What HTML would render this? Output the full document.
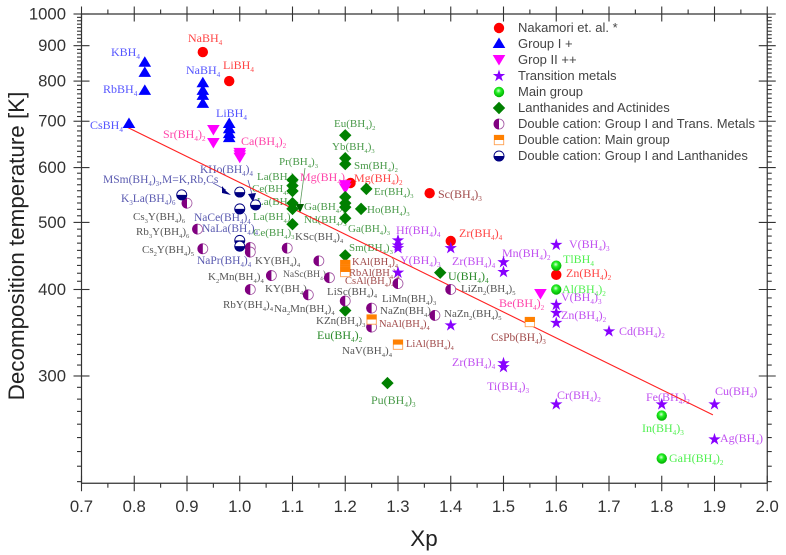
<!DOCTYPE html>
<html lang="en">
<head>
<meta charset="utf-8">
<title>Decomposition temperature vs Xp</title>
<style>
html,body{margin:0;padding:0;background:#fff}
svg{display:block}
#labels text{font-family:"Liberation Serif",serif}
.s{font-size:.6em;baseline-shift:-3px}
.r{fill:#f44;font-size:12px}
.b{fill:#55f;font-size:12px}
.p{fill:#f4a;font-size:12px}
.v{fill:#c050f0;font-size:12px}
.g{fill:#50f050;font-size:12px}
.d{fill:#4a9a4a;font-size:11px}
.n{fill:#5a5ab0;font-size:11.5px}
.k{fill:#555;font-size:11px}
.w{fill:#a04a4a;font-size:10.5px}
.leg{font-family:"Liberation Sans",sans-serif;font-size:13px;fill:#444}
.tick{font-family:"Liberation Sans",sans-serif;font-size:16.7px;fill:#333}
.title{font-family:"Liberation Sans",sans-serif;font-size:22.4px;fill:#222}
</style>
</head>
<body>
<svg id="chart" xmlns="http://www.w3.org/2000/svg" width="786" height="555" viewBox="0 0 786 555">
<defs>
<radialGradient id="sphere" cx="0.45" cy="0.38" r="0.6"><stop offset="0" stop-color="#d8ffd8"/><stop offset="0.4" stop-color="#22ee22"/><stop offset="1" stop-color="#00b000"/></radialGradient>
<g id="m-circle"><circle r="5.2" fill="#f00"/></g>
<g id="m-up"><polygon points="0,-5.5 6.3,5 -6.3,5" fill="#00f"/></g>
<g id="m-down"><polygon points="0,5.5 6.3,-5 -6.3,-5" fill="#f0f"/></g>
<g id="m-star"><polygon points="0,-6.5 1.47,-2.02 6.18,-2.01 2.38,.77 3.82,5.26 0,2.5 -3.82,5.26 -2.38,.77 -6.18,-2.01 -1.47,-2.02" fill="#80f"/></g>
<g id="m-sphere"><circle r="5.2" fill="url(#sphere)"/></g>
<g id="m-diamond"><polygon points="0,-6.2 6.2,0 0,6.2 -6.2,0" fill="#008000"/></g>
<g id="m-half-tm"><circle r="5" fill="#fff" stroke="#a050a0" stroke-width=".8"/><path d="M0,-5.4A5.4,5.4 0 0 0 0,5.4Z" fill="#800080"/></g>
<g id="m-half-main"><rect x="-4.7" y="-4.7" width="9.4" height="9.4" fill="#fff" stroke="#ffa050" stroke-width=".9"/><rect x="-5" y="-5" width="10" height="5" fill="#ff8000"/></g>
<g id="m-half-lan"><circle r="5" fill="#fff" stroke="#000080" stroke-width=".9"/><path d="M-5.4,0A5.4,5.4 0 0 0 5.4,0Z" fill="#000080"/></g>
</defs>

<g id="labels">
<text class="r" x="188" y="42">NaBH<tspan class="s">4</tspan></text>
<text class="r" x="223" y="69">LiBH<tspan class="s">4</tspan></text>
<text class="b" x="111" y="56">KBH<tspan class="s">4</tspan></text>
<text class="b" x="186" y="74">NaBH<tspan class="s">4</tspan></text>
<text class="b" x="103" y="93">RbBH<tspan class="s">4</tspan></text>
<text class="b" x="90" y="129">CsBH<tspan class="s">4</tspan></text>
<text class="b" x="216" y="117">LiBH<tspan class="s">4</tspan></text>
<text class="p" x="163" y="138">Sr(BH<tspan class="s">4</tspan>)<tspan class="s">2</tspan></text>
<text class="p" x="241" y="145">Ca(BH<tspan class="s">4</tspan>)<tspan class="s">2</tspan></text>
<text class="d" x="279" y="165">Pr(BH<tspan class="s">4</tspan>)<tspan class="s">3</tspan></text>
<text class="n" x="200" y="173">KHo(BH<tspan class="s">4</tspan>)<tspan class="s">4</tspan></text>
<text class="d" x="257" y="180">La(BH<tspan class="s">4</tspan>)<tspan class="s">3</tspan></text>
<text class="p" x="300" y="181">Mg(BH<tspan class="s">4</tspan>)<tspan class="s">2</tspan></text>
<text class="n" x="103" y="183">MSm(BH<tspan class="s">4</tspan>)<tspan class="s">3</tspan>,M=K,Rb,Cs</text>
<text class="n" x="121" y="202">K<tspan class="s">3</tspan>La(BH<tspan class="s">4</tspan>)<tspan class="s">6</tspan></text>
<text class="k" x="133" y="220">Cs<tspan class="s">3</tspan>Y(BH<tspan class="s">4</tspan>)<tspan class="s">6</tspan></text>
<text class="k" x="136" y="235">Rb<tspan class="s">3</tspan>Y(BH<tspan class="s">4</tspan>)<tspan class="s">6</tspan></text>
<text class="k" x="142" y="253">Cs<tspan class="s">2</tspan>Y(BH<tspan class="s">4</tspan>)<tspan class="s">5</tspan></text>
<text class="n" x="194" y="221">NaCe(BH<tspan class="s">4</tspan>)<tspan class="s">4</tspan></text>
<text class="n" x="202" y="232">NaLa(BH<tspan class="s">4</tspan>)<tspan class="s">4</tspan></text>
<text class="n" x="197" y="264">NaPr(BH<tspan class="s">4</tspan>)<tspan class="s">4</tspan></text>
<text class="k" x="255" y="264">KY(BH<tspan class="s">4</tspan>)<tspan class="s">4</tspan></text>
<text class="k" x="208" y="280">K<tspan class="s">2</tspan>Mn(BH<tspan class="s">4</tspan>)<tspan class="s">4</tspan></text>
<text class="k" x="265" y="292">KY(BH<tspan class="s">4</tspan>)<tspan class="s">4</tspan></text>
<text class="k" x="223" y="308">RbY(BH<tspan class="s">4</tspan>)<tspan class="s">4</tspan></text>
<text class="k" x="274" y="312">Na<tspan class="s">2</tspan>Mn(BH<tspan class="s">4</tspan>)<tspan class="s">4</tspan></text>
<text class="k" x="283" y="277" style="font-size:9.5px">NaSc(BH<tspan class="s">4</tspan>)</text>
<text class="d" x="252" y="192">Ce(BH<tspan class="s">4</tspan>)<tspan class="s">3</tspan></text>
<text class="d" x="257" y="205">La(BH<tspan class="s">4</tspan>)<tspan class="s">3</tspan></text>
<text class="d" x="253" y="220">La(BH<tspan class="s">4</tspan>)<tspan class="s">3</tspan></text>
<text class="d" x="253" y="236">Ce(BH<tspan class="s">4</tspan>)<tspan class="s">3</tspan></text>
<text class="k" x="295" y="240">KSc(BH<tspan class="s">4</tspan>)<tspan class="s">4</tspan></text>
<text class="d" x="304" y="210">Ga(BH<tspan class="s">4</tspan>)<tspan class="s">3</tspan></text>
<text class="d" x="304" y="223">Nd(BH<tspan class="s">4</tspan>)<tspan class="s">3</tspan></text>
<text class="d" x="334" y="127">Eu(BH<tspan class="s">4</tspan>)<tspan class="s">2</tspan></text>
<text class="d" x="332" y="150">Yb(BH<tspan class="s">4</tspan>)<tspan class="s">3</tspan></text>
<text class="d" x="354" y="169">Sm(BH<tspan class="s">4</tspan>)<tspan class="s">2</tspan></text>
<text class="r" x="354" y="182">Mg(BH<tspan class="s">4</tspan>)<tspan class="s">2</tspan></text>
<text class="d" x="374" y="195">Er(BH<tspan class="s">4</tspan>)<tspan class="s">3</tspan></text>
<text class="d" x="367" y="213">Ho(BH<tspan class="s">4</tspan>)<tspan class="s">3</tspan></text>
<text class="d" x="348" y="232">Ga(BH<tspan class="s">4</tspan>)<tspan class="s">3</tspan></text>
<text class="d" x="349" y="251">Sm(BH<tspan class="s">4</tspan>)<tspan class="s">3</tspan></text>
<text class="w" x="352" y="265">KAl(BH<tspan class="s">4</tspan>)<tspan class="s">4</tspan></text>
<text class="w" x="349" y="276">RbAl(BH<tspan class="s">4</tspan>)<tspan class="s">4</tspan></text>
<text class="w" x="345" y="284">CsAl(BH<tspan class="s">4</tspan>)<tspan class="s">4</tspan></text>
<text class="v" x="396" y="234">Hf(BH<tspan class="s">4</tspan>)<tspan class="s">4</tspan></text>
<text class="v" x="400" y="264">Y(BH<tspan class="s">4</tspan>)<tspan class="s">3</tspan></text>
<text class="k" x="327" y="295">LiSc(BH<tspan class="s">4</tspan>)<tspan class="s">4</tspan></text>
<text class="k" x="382" y="302">LiMn(BH<tspan class="s">4</tspan>)<tspan class="s">3</tspan></text>
<text class="k" x="380" y="314">NaZn(BH<tspan class="s">4</tspan>)</text>
<text class="k" x="316" y="324">KZn(BH<tspan class="s">4</tspan>)<tspan class="s">3</tspan></text>
<text class="w" x="379" y="327">NaAl(BH<tspan class="s">4</tspan>)<tspan class="s">4</tspan></text>
<text class="d" x="317" y="339" style="fill:#2a8a2a;font-size:12px">Eu(BH<tspan class="s">4</tspan>)<tspan class="s">2</tspan></text>
<text class="w" x="406" y="347">LiAl(BH<tspan class="s">4</tspan>)<tspan class="s">4</tspan></text>
<text class="k" x="342" y="354">NaV(BH<tspan class="s">4</tspan>)<tspan class="s">4</tspan></text>
<text class="d" x="371" y="404" style="font-size:12px">Pu(BH<tspan class="s">4</tspan>)<tspan class="s">3</tspan></text>
<text class="r" x="438" y="198" style="fill:#a04a4a">Sc(BH<tspan class="s">4</tspan>)<tspan class="s">3</tspan></text>
<text class="r" x="459" y="237">Zr(BH<tspan class="s">4</tspan>)<tspan class="s">4</tspan></text>
<text class="v" x="502" y="257">Mn(BH<tspan class="s">4</tspan>)<tspan class="s">2</tspan></text>
<text class="v" x="452" y="265">Zr(BH<tspan class="s">4</tspan>)<tspan class="s">4</tspan></text>
<text class="d" x="448" y="280" style="fill:#2a8a2a;font-size:12px">U(BH<tspan class="s">4</tspan>)<tspan class="s">4</tspan></text>
<text class="k" x="461" y="292">LiZn<tspan class="s">2</tspan>(BH<tspan class="s">4</tspan>)<tspan class="s">5</tspan></text>
<text class="p" x="499" y="307">Be(BH<tspan class="s">4</tspan>)<tspan class="s">2</tspan></text>
<text class="k" x="444" y="317">NaZn<tspan class="s">2</tspan>(BH<tspan class="s">4</tspan>)<tspan class="s">5</tspan></text>
<text class="w" x="491" y="341" style="font-size:11.5px">CsPb(BH<tspan class="s">4</tspan>)<tspan class="s">3</tspan></text>
<text class="v" x="452" y="366">Zr(BH<tspan class="s">4</tspan>)<tspan class="s">4</tspan></text>
<text class="v" x="487" y="390">Ti(BH<tspan class="s">4</tspan>)<tspan class="s">3</tspan></text>
<text class="v" x="569" y="248">V(BH<tspan class="s">4</tspan>)<tspan class="s">3</tspan></text>
<text class="g" x="563" y="263">TlBH<tspan class="s">4</tspan></text>
<text class="r" x="566" y="277">Zn(BH<tspan class="s">4</tspan>)<tspan class="s">2</tspan></text>
<text class="g" x="562" y="293">Al(BH<tspan class="s">4</tspan>)<tspan class="s">2</tspan></text>
<text class="v" x="561" y="301">V(BH<tspan class="s">4</tspan>)<tspan class="s">3</tspan></text>
<text class="v" x="561" y="319">Zn(BH<tspan class="s">4</tspan>)<tspan class="s">2</tspan></text>
<text class="v" x="619" y="335">Cd(BH<tspan class="s">4</tspan>)<tspan class="s">2</tspan></text>
<text class="v" x="557" y="399">Cr(BH<tspan class="s">4</tspan>)<tspan class="s">2</tspan></text>
<text class="v" x="646" y="401">Fe(BH<tspan class="s">4</tspan>)<tspan class="s">2</tspan></text>
<text class="v" x="715" y="395">Cu(BH<tspan class="s">4</tspan>)</text>
<text class="g" x="642" y="432">In(BH<tspan class="s">4</tspan>)<tspan class="s">3</tspan></text>
<text class="v" x="720" y="442">Ag(BH<tspan class="s">4</tspan>)</text>
<text class="g" x="669" y="462">GaH(BH<tspan class="s">4</tspan>)<tspan class="s">2</tspan></text>
</g>

<g>
<line x1="305" y1="168" x2="300" y2="205" stroke="#5a9a5a" stroke-width=".8"/>
<polygon points="296,204 304,204 300,213" fill="#006000"/>
<line x1="213" y1="183" x2="226" y2="190" stroke="#5a5ab0" stroke-width=".8"/>
<polygon points="222,186 226,191 231,195 222,193" fill="#000080"/>
<line x1="248" y1="180" x2="252" y2="194" stroke="#5a5ab0" stroke-width=".8"/>
<polygon points="248,194 256,193 253,202" fill="#000080"/>
</g>

<g id="axes"></g>
<g id="trend"></g>
<g id="marks"></g>

<g id="legend">
<use href="#m-circle" x="499" y="28"/>
<text class="leg" x="518" y="32">Nakamori et. al. *</text>
<use href="#m-up" x="499" y="43"/>
<text class="leg" x="518" y="48">Group I +</text>
<use href="#m-down" x="499" y="60"/>
<text class="leg" x="518" y="64">Grop II ++</text>
<use href="#m-star" x="499" y="76"/>
<text class="leg" x="518" y="80">Transition metals</text>
<use href="#m-sphere" x="499" y="92"/>
<text class="leg" x="518" y="96">Main group</text>
<use href="#m-diamond" x="499" y="108"/>
<text class="leg" x="518" y="112">Lanthanides and Actinides</text>
<use href="#m-half-tm" x="499" y="124"/>
<text class="leg" x="518" y="128">Double cation: Group I and Trans. Metals</text>
<use href="#m-half-main" x="499" y="140"/>
<text class="leg" x="518" y="144">Double cation: Main group</text>
<use href="#m-half-lan" x="499" y="156"/>
<text class="leg" x="518" y="160">Double cation: Group I and Lanthanides</text>
</g>

<text class="title" transform="translate(24,246) rotate(-90)" text-anchor="middle">Decomposition temperature [K]</text>
<text class="title" x="424" y="546" text-anchor="middle">Xp</text>
</svg>

<script>
const xTickLabels = ['0.7','0.8','0.9','1.0','1.1','1.2','1.3','1.4','1.5','1.6','1.7','1.8','1.9','2.0'];
const yTickValues = [300,400,500,600,700,800,900,1000];
const yTickLabels = ['300','400','500','600','700','800','900','1000'];

const trendXp = [0.782, 1.897];
const trendTemp = [689, 263.6];

const nakamoriXp = [0.93,0.98,1.21,1.36,1.40,1.60];
const nakamoriTemp = [881,800,570,551,470,420];

const group1Xp = [0.82,0.82,0.82,0.79,0.93,0.93,0.93,0.93,0.98,0.98,0.98,0.98];
const group1Temp = [853,825,777,696,797,777,764,744,696,684,673,664];

const group2Xp = [0.95,0.95,1.00,1.00,1.00,1.20,1.20,1.57];
const group2Temp = [680,651,630,625,620,566,560,394];

const transitionXp = [1.30,1.30,1.30,1.30,1.40,1.40,1.50,1.50,1.50,1.50,1.60,1.60,1.60,1.60,1.70,1.60,1.80,1.90,1.90];
const transitionTemp = [471,463,459,423,459,355,438,424,313,309,464,380,370,358,348,273,273,273,243];

const mainXp = [1.60,1.60,1.80,1.80];
const mainTemp = [433,400,263,228];

const lanthanideXp = [1.10,1.10,1.10,1.10,1.10,1.10,1.20,1.20,1.20,1.20,1.20,1.20,1.20,1.20,1.20,1.24,1.23,1.38,1.28];
const lanthanideTemp = [576,565,555,533,523,497,668,619,607,544,533,526,507,448,373,559,523,423,293];

const doubleTmXp = [0.90,0.92,0.93,1.02,1.02,1.06,1.02,1.09,1.15,1.17,1.13,1.20,1.25,1.25,1.30,1.37,1.40];
const doubleTmTemp = [533,489,458,460,453,419,400,459,440,416,393,385,376,353,408,367,400];

const doubleMainXp = [1.20,1.20,1.20,1.25,1.30,1.55];
const doubleMainTemp = [434,428,424,362,333,359];

const doubleLanXp = [0.89,1.00,1.00,1.03,1.00,1.00];
const doubleLanTemp = [548,553,523,530,471,462];

const NS = 'http://www.w3.org/2000/svg';
function xScale(v){ return 81.5 + (v - 0.7) * 527.5; }
function yScale(v){ return 14 + (3 - Math.log10(v)) * 692.3; }

const axesG = document.getElementById('axes');
const marksG = document.getElementById('marks');
const trendG = document.getElementById('trend');

function axisLine(x1,y1,x2,y2,w,name){
  const el = document.createElementNS(NS,'line');
  el.setAttribute('x1',x1);
  el.setAttribute('y1',y1);
  el.setAttribute('x2',x2);
  el.setAttribute('y2',y2);
  el.setAttribute('stroke','#333');
  el.setAttribute('stroke-width',w);
  
  
  axesG.appendChild(el);
}
function tickText(x,y,anchor,str,name){
  const el = document.createElementNS(NS,'text');
  el.setAttribute('class','tick');
  el.setAttribute('x',x);
  el.setAttribute('y',y);
  el.setAttribute('text-anchor',anchor);
  el.textContent = str;
  
  
  axesG.appendChild(el);
}

const L = xScale(0.7), R = xScale(2.0), T = yScale(1000), B = yScale(210);
axisLine(L,T,R,T,1.2,'top-axis');
axisLine(L,B,R,B,1.2,'bottom-axis');
axisLine(L,T,L,B,1.2,'left-axis');
axisLine(R,T,R,B,1.2,'right-axis');

xTickLabels.forEach(function(lab,i){
  const px = xScale(Number(lab));
  axisLine(px,B-7.5,px,B+8,1.1,'x-major-tick-bottom');
  axisLine(px,T-7.5,px,T+7.5,1.1,'x-major-tick-top');
  tickText(px,512,'middle',lab,'x-tick-label');
  if(i < xTickLabels.length-1){
    const m = xScale(Number(lab)+0.05);
    axisLine(m,B,m,B+4.5,1.1,'x-minor-tick-bottom');
    axisLine(m,T-4.5,m,T,1.1,'x-minor-tick-top');
  }
});

yTickValues.forEach(function(v,i){
  const py = yScale(v);
  axisLine(L-8,py,L+8,py,1.1,'y-major-tick-left');
  axisLine(R-8.5,py,R+8.5,py,1.1,'y-major-tick-right');
  tickText(66,py+5.5,'end',yTickLabels[i],'y-tick-label');
  if(i === yTickValues.length-1){ return; }
  for(let k=1;k<=8;k++){
    const my = yScale(v + k*(yTickValues[i+1]-v)/9);
    axisLine(L-4.5,my,L,my,1.1,'y-minor-tick-left');
    axisLine(R,my,R+4.5,my,1.1,'y-minor-tick-right');
  }
  if(i === 0){
    for(let k=1;k<=8;k++){
      const ly = yScale(v - k*100/9);
      axisLine(L-4.5,ly,L,ly,1.1,'y-minor-tick-left');
      axisLine(R,ly,R+4.5,ly,1.1,'y-minor-tick-right');
    }
  }
});

const trendEl = document.createElementNS(NS,'line');
trendEl.setAttribute('x1',xScale(trendXp[0]));
trendEl.setAttribute('y1',yScale(trendTemp[0]));
trendEl.setAttribute('x2',xScale(trendXp[1]));
trendEl.setAttribute('y2',yScale(trendTemp[1]));
trendEl.setAttribute('stroke','#f22');
trendEl.setAttribute('stroke-width','1.1');


trendG.appendChild(trendEl);

function drawSeries(sym,name,xs,ts){
  xs.forEach(function(xv,i){
    const el = document.createElementNS(NS,'use');
    el.setAttribute('href','#'+sym);
    el.setAttribute('x',xScale(xv));
    el.setAttribute('y',yScale(ts[i]));
    
    
    marksG.appendChild(el);
  });
}
drawSeries('m-circle','point-nakamori',nakamoriXp,nakamoriTemp);
drawSeries('m-up','point-group1',group1Xp,group1Temp);
drawSeries('m-down','point-group2',group2Xp,group2Temp);
drawSeries('m-star','point-transition',transitionXp,transitionTemp);
drawSeries('m-sphere','point-main-group',mainXp,mainTemp);
drawSeries('m-diamond','point-lanthanide',lanthanideXp,lanthanideTemp);
drawSeries('m-half-tm','point-double-tm',doubleTmXp,doubleTmTemp);
drawSeries('m-half-main','point-double-main',doubleMainXp,doubleMainTemp);
drawSeries('m-half-lan','point-double-lanthanide',doubleLanXp,doubleLanTemp);
</script>
</body>
</html>
